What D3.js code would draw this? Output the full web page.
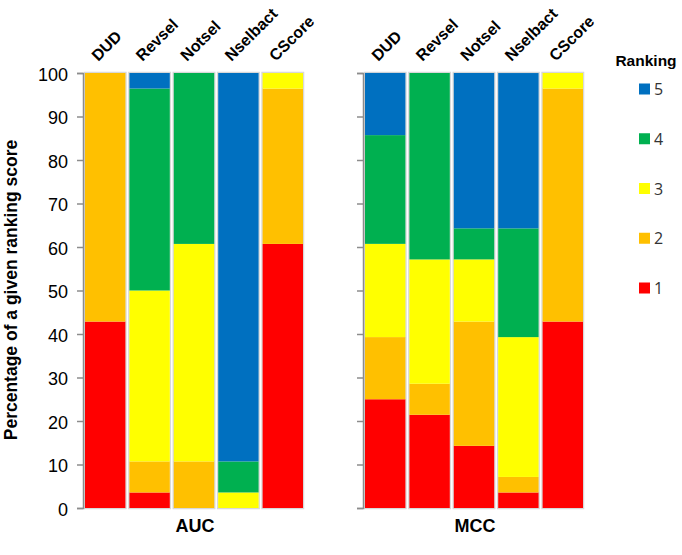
<!DOCTYPE html>
<html><head><meta charset="utf-8">
<script src="https://cdn.jsdelivr.net/npm/d3@7"></script>
<style>body{margin:0;background:#fff}svg{display:block}</style>
</head><body>
<script>
const methods = ["DUD","Revsel","Notsel","Nselbact","CScore"];
const rankings = ["1","2","3","4","5"];
const rankColors = ["#FF0000","#FFC000","#FFFF00","#00B050","#0070C0"];
const yTicks = [0,10,20,30,40,50,60,70,80,90,100];
// percentages per ranking score (1..5) for each method
const aucRank1 = [42.86, 3.57, 0, 0, 60.71];
const aucRank2 = [57.14, 7.14, 10.71, 0, 35.71];
const aucRank3 = [0, 39.29, 50.00, 3.57, 3.57];
const aucRank4 = [0, 46.43, 39.29, 7.14, 0];
const aucRank5 = [0, 3.57, 0, 89.29, 0];
const mccRank1 = [25.00, 21.43, 14.29, 3.57, 42.86];
const mccRank2 = [14.29, 7.14, 28.57, 3.57, 53.57];
const mccRank3 = [21.43, 28.57, 14.29, 32.14, 3.57];
const mccRank4 = [25.00, 42.86, 7.14, 25.00, 0];
const mccRank5 = [14.29, 0, 35.71, 35.71, 0];
const panelTitles = ["AUC","MCC"];
const yTitle = "Percentage of a given ranking score";
const legendTitle = "Ranking";

function toRows(series){
  return methods.map((m,i)=>{const r={method:m}; rankings.forEach((k,j)=>r[k]=series[j][i]); return r;});
}
const panels = [
  {title:panelTitles[0], rows:toRows([aucRank1,aucRank2,aucRank3,aucRank4,aucRank5]), x0:83, labels:true},
  {title:panelTitles[1], rows:toRows([mccRank1,mccRank2,mccRank3,mccRank4,mccRank5]), x0:363, labels:false}
];

const W=682,H=555;
const svg=d3.select("body").append("svg").attr("width",W).attr("height",H);
const y=d3.scaleLinear().domain([0,100]).range([508,73]);
const color=d3.scaleOrdinal().domain(rankings).range(rankColors);
const stack=d3.stack().keys(rankings);
const font="Liberation Sans, Arial, sans-serif";

panels.forEach(p=>{
  const x=d3.scaleBand().domain(methods).range([p.x0, p.x0+222]).paddingInner(0.09).paddingOuter(0.045);
  const g=svg.append("g");
  g.selectAll("rect.bg").data(methods).join("rect").attr("class","bg")
    .attr("x",d=>x(d)-0.5).attr("width",x.bandwidth()+1)
    .attr("y",y(100)-0.5).attr("height",y(0)-y(100)+1)
    .attr("fill","#fff").attr("stroke","#d8d8d8").attr("stroke-width",1.5);
  const layers=stack(p.rows);
  g.selectAll("g.layer").data(layers).join("g").attr("class","layer")
    .attr("fill",d=>color(d.key))
    .selectAll("rect").data(d=>d).join("rect")
    .attr("x",d=>x(d.data.method)).attr("width",x.bandwidth())
    .attr("y",d=>y(d[1])).attr("height",d=>y(d[0])-y(d[1]));
  const ax=d3.axisLeft(y).tickValues(yTicks).tickSize(6).tickPadding(9);
  if(!p.labels) ax.tickFormat("");
  const axg=svg.append("g").attr("transform",`translate(${p.x0},0)`).call(ax);
  axg.select(".domain").attr("stroke","#8c8c8c").attr("stroke-width",1.5);
  axg.selectAll(".tick line").attr("stroke","#8c8c8c").attr("stroke-width",1.5);
  axg.selectAll(".tick text").attr("font-family",font).attr("font-size",18).attr("fill","#000").attr("dy","0.4em");
  svg.selectAll(null).data(methods).join("text")
    .attr("transform",d=>`translate(${x(d)+x.bandwidth()/2-7},${62}) rotate(-45)`)
    .attr("font-family",font).attr("font-weight","bold").attr("font-size",16)
    .text(d=>d);
  svg.append("text").attr("x",p.x0+222/2+1).attr("y",532).attr("text-anchor","middle")
    .attr("font-family",font).attr("font-weight","bold").attr("font-size",18).text(p.title);
});

svg.append("text").attr("transform","translate(17,290) rotate(-90)").attr("text-anchor","middle")
  .attr("font-family",font).attr("font-weight","bold").attr("font-size",17.5).text(yTitle);

svg.append("text").attr("x",646).attr("y",66).attr("text-anchor","middle")
  .attr("font-family",font).attr("font-weight","bold").attr("font-size",15.5).text(legendTitle);
const legendKeys=rankings.slice().reverse();
const ly=d3.scalePoint().domain(legendKeys).range([89,288]);
const lg=svg.selectAll("g.leg").data(legendKeys).join("g").attr("class","leg")
  .attr("transform",d=>`translate(639,${ly(d)})`);
lg.append("rect").attr("x",0).attr("y",-5.5).attr("width",11).attr("height",11).attr("fill",d=>color(d));
lg.append("text").attr("x",15).attr("y",6).attr("font-family","Open Sans, sans-serif").attr("font-size",16).attr("fill","#333").text(d=>d);
</script>
</body></html>
